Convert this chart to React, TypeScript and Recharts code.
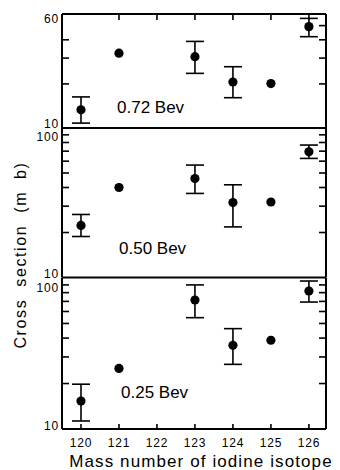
import React from 'react';
import { ScatterChart, Scatter, XAxis, YAxis, ErrorBar, ReferenceLine } from 'recharts';

const isotopes = [120, 121, 123, 124, 125, 126];
const xTicks = [120, 121, 122, 123, 124, 125, 126];

// 0.72 Bev
const sigma072 = [13.3, 32.4, 30.7, 20.6, 20.1, 49.2];
const low072 = [10.8, null, 23.6, 16.1, null, 42];
const high072 = [16.3, null, 39, 26.2, null, 56];

// 0.50 Bev
const sigma050 = [22.3, 40, 45.9, 31.7, 32, 69.3];
const low050 = [18.8, null, 36.5, 21.8, null, 62.6];
const high050 = [26.4, null, 56.5, 41.7, null, 76.9];

// 0.25 Bev
const sigma025 = [15.3, 25.2, 71.5, 35.8, 38.7, 82];
const low025 = [11.3, null, 54.6, 26.8, null, 69.3];
const high025 = [19.8, null, 90, 46.2, null, 95.5];

const X_DOMAIN: [number, number] = [119.5, 126.45];
const FONT = '"Liberation Sans", Arial, sans-serif';
const FRAME = { stroke: '#000', strokeWidth: 2 };

function buildData(values: number[], low: (number | null)[], high: (number | null)[]) {
  return isotopes.map((m, i) => ({
    mass: m,
    sigma: values[i],
    err: low[i] == null ? undefined : [values[i] - (low[i] as number), (high[i] as number) - values[i]],
  }));
}

const Dot = (props: any) => <circle cx={props.cx} cy={props.cy} r={4.6} fill="#000" />;

// inward tick marks on the plot edges
const yTickShape = (left: boolean, right: boolean) => (p: any) => (
  <g stroke="#000" strokeWidth={1.6}>
    {left && <line x1={p.x1} y1={p.y1} x2={p.x1 + 7} y2={p.y1} />}
    {right && <line x1={p.x2 - 7} y1={p.y2} x2={p.x2} y2={p.y2} />}
  </g>
);

const xTickShape = (atTop: boolean) => (p: any) => {
  const yTop = Math.min(p.y1, p.y2);
  const yBot = Math.max(p.y1, p.y2);
  return atTop ? (
    <line x1={p.x1} y1={yTop} x2={p.x1} y2={yTop + 6} stroke="#000" strokeWidth={1.6} />
  ) : (
    <line x1={p.x1} y1={yBot} x2={p.x1} y2={yBot - 5} stroke="#000" strokeWidth={1.6} />
  );
};

function leftLabel(labels: Record<number, string>, domain: [number, number], topDy: number, botDy: number) {
  return (p: any) => {
    const v = p.payload.value;
    const label = labels[v];
    if (!label) return <g />;
    const dy = v === domain[1] ? topDy : botDy;
    return (
      <text x={62 - 3} y={p.y + dy} textAnchor="end" fontSize={12} fontFamily={FONT} letterSpacing={0.8} fill="#000">
        {label}
      </text>
    );
  };
}

const bottomLabel = (p: any) => (
  <text x={p.x} y={p.y + 16} textAnchor="middle" fontSize={12} fontFamily={FONT} letterSpacing={0.8} fill="#000">
    {p.payload.value}
  </text>
);

type PanelProps = {
  data: any[];
  domain: [number, number];
  leftTicks: number[];
  rightTicks: number[];
  labels: Record<number, string>;
  topDy: number;
  botDy: number;
  top: number;
  plotHeight: number;
  showTop?: boolean;
  showBottom?: boolean;
};

function Panel({ data, domain, leftTicks, rightTicks, labels, topDy, botDy, top, plotHeight, showTop, showBottom }: PanelProps) {
  const bottomAxisH = showBottom ? 30 : 8;
  const topPad = 14;
  const yTickValues = Array.from(new Set([...leftTicks, ...rightTicks]));
  const xTickValues = showTop ? xTicks.slice(1) : showBottom ? xTicks : [];
  return (
    <div style={{ position: 'absolute', left: 0, top: top - topPad }}>
      <ScatterChart width={340} height={plotHeight + topPad + bottomAxisH} margin={{ top: topPad, right: 14, bottom: 0, left: 0 }}>
        <XAxis
          dataKey="mass"
          type="number"
          domain={X_DOMAIN}
          ticks={xTicks}
          height={bottomAxisH}
          axisLine={FRAME}
          tickLine={false}
          tickSize={0}
          tick={showBottom ? bottomLabel : false}
          interval={0}
        />
        <YAxis
          dataKey="sigma"
          type="number"
          scale="log"
          domain={domain}
          allowDataOverflow
          ticks={[domain[0], domain[1]]}
          width={62}
          axisLine={FRAME}
          tickLine={false}
          tickSize={0}
          interval={0}
          tick={leftLabel(labels, domain, topDy, botDy)}
        />
        {showTop && <ReferenceLine y={domain[1]} stroke="#000" strokeWidth={2} ifOverflow="visible" />}
        <ReferenceLine x={X_DOMAIN[1]} stroke="#000" strokeWidth={2} ifOverflow="visible" />
        {yTickValues.map((v) => (
          <ReferenceLine key={'y' + v} y={v} shape={yTickShape(leftTicks.includes(v), rightTicks.includes(v))} />
        ))}
        {xTickValues.map((v) => (
          <ReferenceLine key={'x' + v} x={v} shape={xTickShape(!!showTop)} />
        ))}
        <Scatter data={data} dataKey="sigma" shape={Dot} isAnimationActive={false}>
          <ErrorBar dataKey="err" direction="y" width={9} stroke="#000" strokeWidth={1.6} />
        </Scatter>
      </ScatterChart>
    </div>
  );
}

export default function App() {
  return (
    <div style={{ position: 'absolute', left: 0, top: 0, width: 340, height: 470, background: '#fff' }}>
      <Panel
        data={buildData(sigma072, low072, high072)}
        domain={[10, 60]}
        leftTicks={[20, 30, 40]}
        rightTicks={[20, 30, 40, 50]}
        labels={{ 60: '60', 10: '10' }}
        topDy={8.5}
        botDy={-0.5}
        top={14}
        plotHeight={114}
        showTop
      />
      <Panel
        data={buildData(sigma050, low050, high050)}
        domain={[10, 100]}
        leftTicks={[20, 30, 40, 50, 60, 70, 80, 90]}
        rightTicks={[20, 30, 40, 50, 60, 70, 80, 90]}
        labels={{ 100: '100', 10: '10' }}
        topDy={13}
        botDy={0.5}
        top={128}
        plotHeight={149.5}
      />
      <Panel
        data={buildData(sigma025, low025, high025)}
        domain={[10, 100]}
        leftTicks={[20, 30, 40, 50, 60, 70, 80, 90]}
        rightTicks={[20, 30, 40, 50, 60, 70, 80, 90]}
        labels={{ 100: '100', 10: '10' }}
        topDy={14}
        botDy={1}
        top={277.5}
        plotHeight={151}
        showBottom
      />
      <svg width={340} height={470} style={{ position: 'absolute', left: 0, top: 0, pointerEvents: 'none' }}>
        <g fontFamily={FONT} fill="#000">
          <text x={117} y={113} fontSize={17}>0.72 Bev</text>
          <text x={119} y={254} fontSize={17}>0.50 Bev</text>
          <text x={121} y={398} fontSize={17}>0.25 Bev</text>
          <text x={201} y={467} fontSize={17} textAnchor="middle" letterSpacing={1.1}>
            Mass number of iodine isotope
          </text>
          <text
            x={0}
            y={0}
            fontSize={16}
            textAnchor="middle"
            letterSpacing={1.6}
            wordSpacing={6}
            transform="translate(26 255) rotate(-90)"
          >
            Cross section (m b)
          </text>
        </g>
      </svg>
    </div>
  );
}
